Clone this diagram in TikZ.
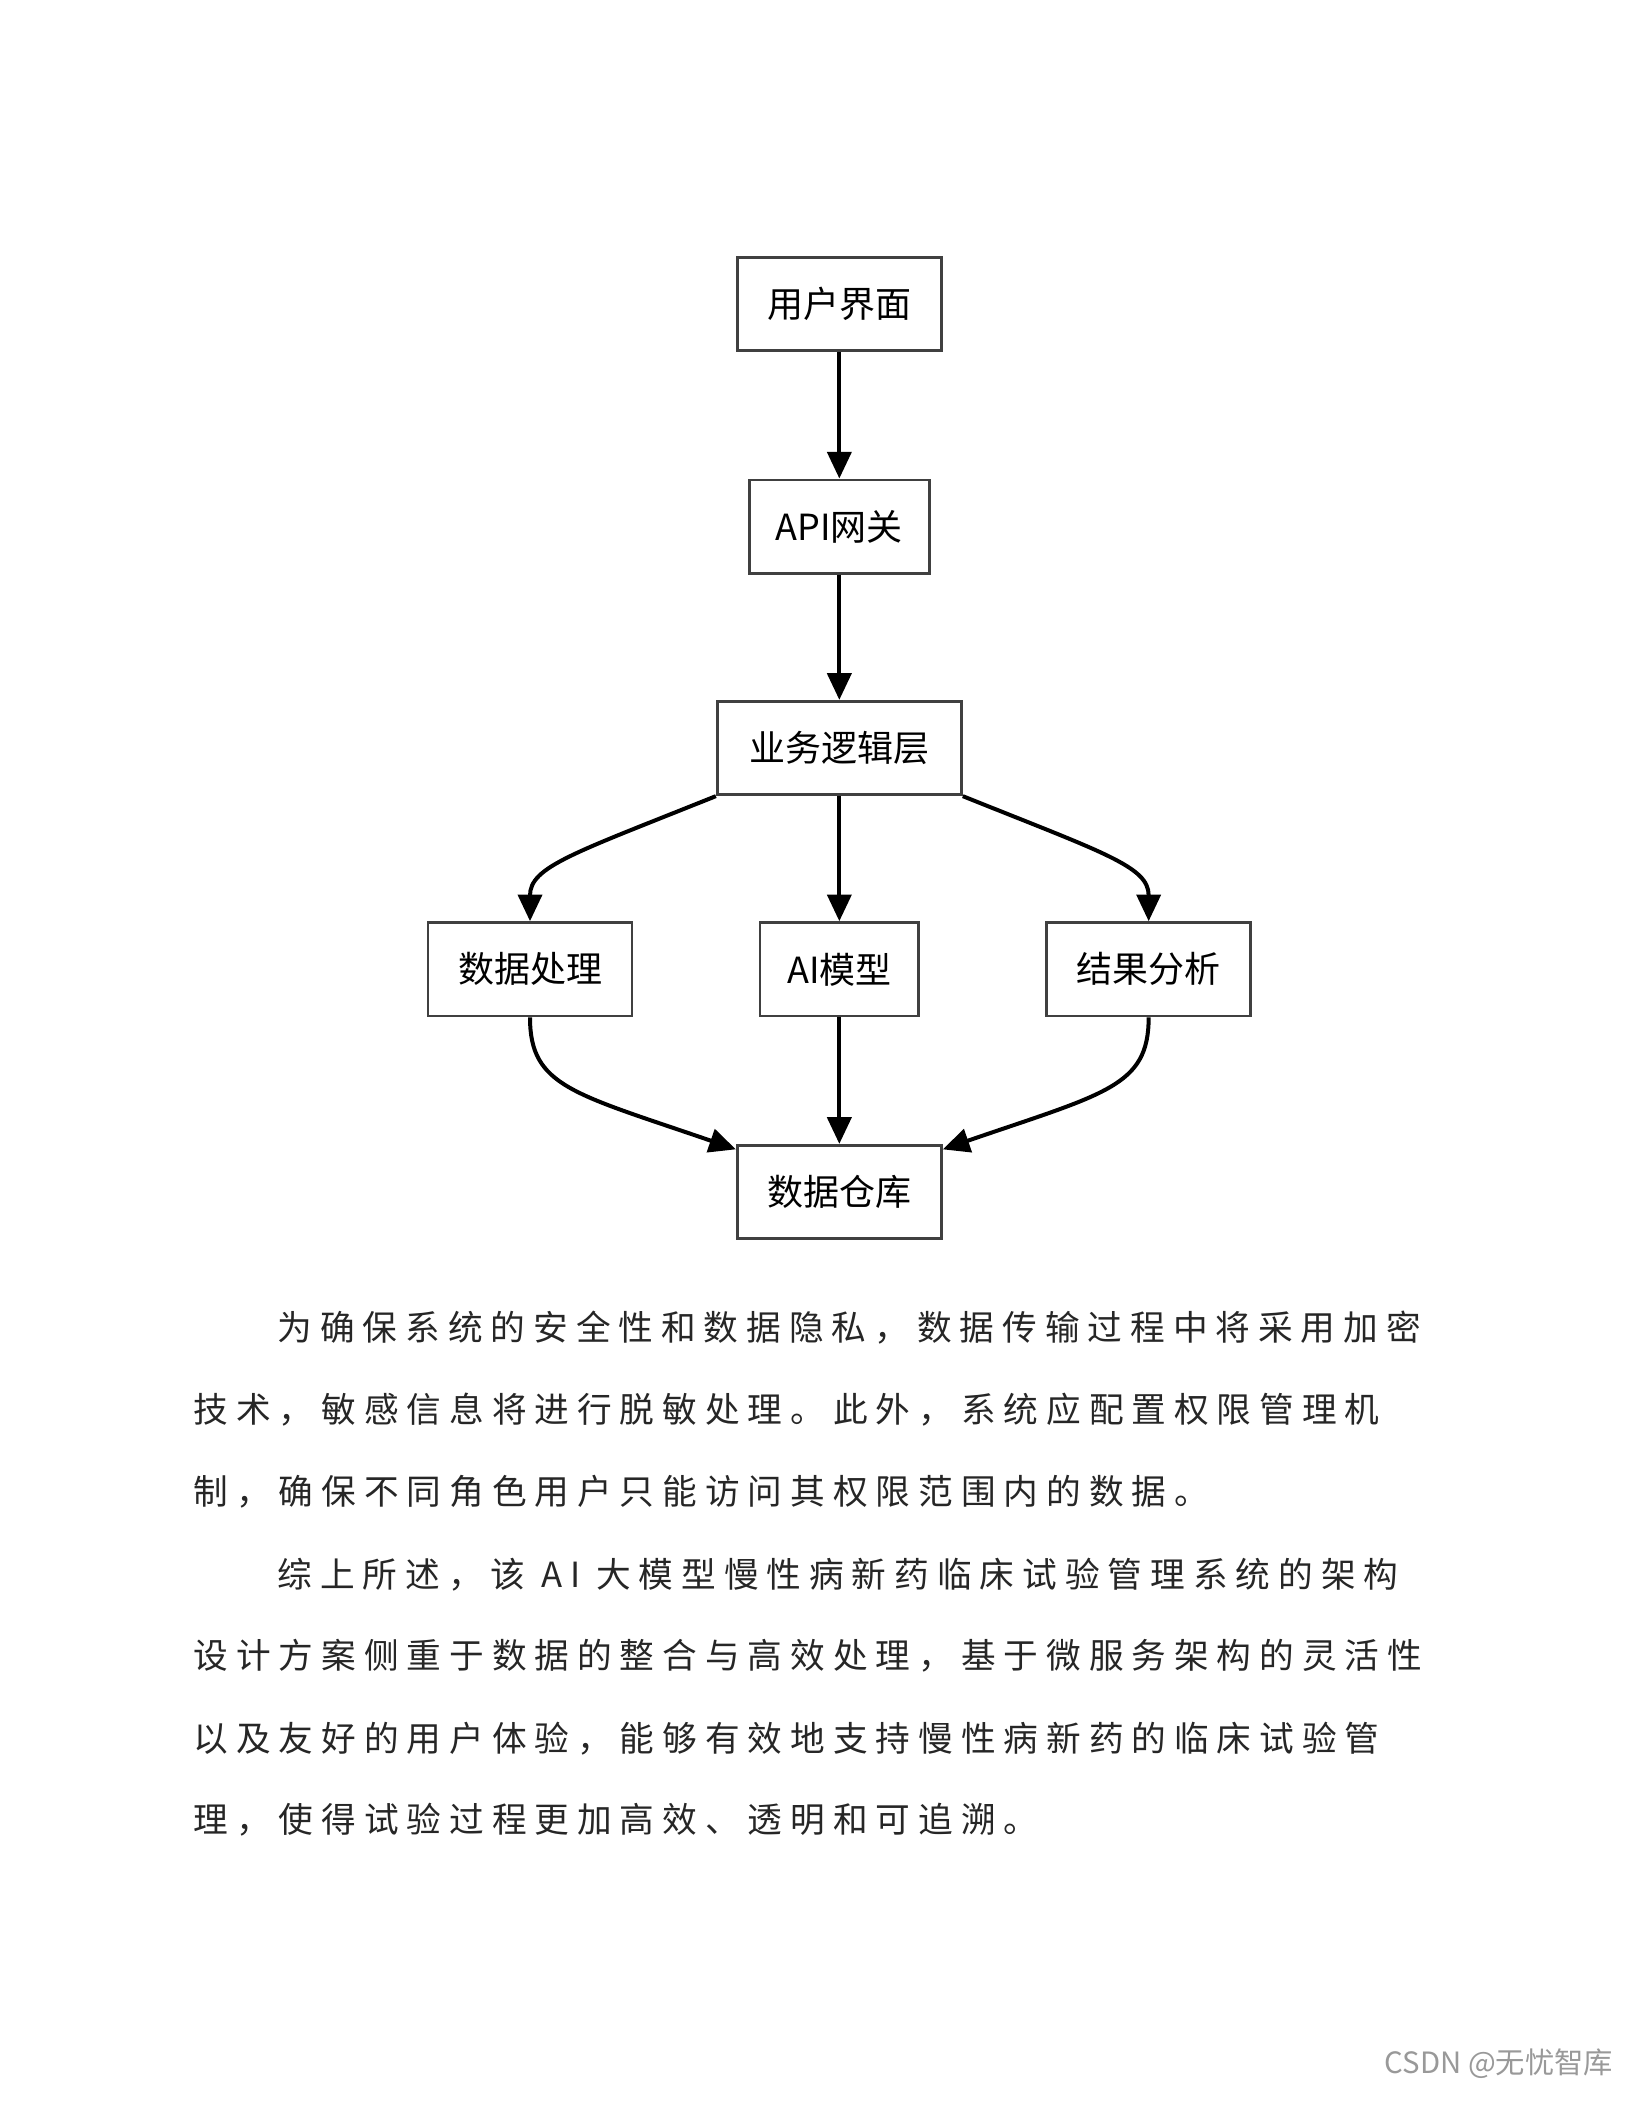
\documentclass[tikz,border=0pt]{standalone}
\usepackage{fontspec}
\setmainfont{Noto Sans CJK SC}
\newfontfamily\cjk{Noto Sans CJK SC}
\newfontfamily\cjksp[LetterSpace=23]{Noto Sans CJK SC}
\usetikzlibrary{arrows.meta}
\begin{document}
\begin{tikzpicture}[x=1pt,y=-1pt,
  box/.style={draw=black!75,line width=2.2pt,fill=white,minimum height=70pt,inner sep=0pt,font=\cjk\fontsize{27}{30}\selectfont},
  arr/.style={-{Triangle[length=20pt,width=18pt]},line width=3pt},
  para/.style={anchor=west,inner sep=0pt,font=\cjksp\fontsize{26}{30}\selectfont,text=black!85}]
\fill[white] (0,0) rectangle (1224,1584);
\node[box,minimum width=153pt] (ui) at (629.5,228) {用户界面};
\node[box,minimum width=135pt] (api) at (629.5,395) {API网关};
\node[box,minimum width=183pt] (biz) at (629.5,561) {业务逻辑层};
\node[box,minimum width=153pt] (dp) at (397.5,727) {数据处理};
\node[box,minimum width=119pt] (ai) at (629.5,727) {AI模型};
\node[box,minimum width=153pt] (ra) at (861.5,727) {结果分析};
\node[box,minimum width=153pt] (dw) at (629.5,894) {数据仓库};
\draw[arr] (ui) -- (api);
\draw[arr] (api) -- (biz);
\draw[arr] (biz) -- (ai);
\draw[arr] (ai) -- (dw);
\draw[arr] (biz.south west) .. controls (430,640) and (397.5,650) .. (dp.north);
\draw[arr] (biz.south east) .. controls (829,640) and (861.5,650) .. (ra.north);
\draw[arr] (dp.south) .. controls (397.5,815) and (430,820) .. (dw.west|-0,862);
\draw[arr] (ra.south) .. controls (861.5,815) and (829,820) .. (dw.east|-0,862);
\node[para] (l1) at (208,996) {为确保系统的安全性和数据隐私，数据传输过程中将采用加密};
\node[para] (l2) at (145,1057) {技术，敏感信息将进行脱敏处理。此外，系统应配置权限管理机};
\node[para] (l3) at (145,1119) {制，确保不同角色用户只能访问其权限范围内的数据。};
\node[para] (l4) at (208,1181) {综上所述，该 AI 大模型慢性病新药临床试验管理系统的架构};
\node[para] (l5) at (145,1242) {设计方案侧重于数据的整合与高效处理，基于微服务架构的灵活性};
\node[para] (l6) at (145,1304) {以及友好的用户体验，能够有效地支持慢性病新药的临床试验管};
\node[para] (l7) at (145,1365) {理，使得试验过程更加高效、透明和可追溯。};
\node[anchor=east,inner sep=0pt,text=black!40,font=\cjk\fontsize{22}{24}\selectfont] (wm) at (1210,1548) {CSDN @无忧智库};
\pgfresetboundingbox
\useasboundingbox (0,0) rectangle (1224,1584);
\end{tikzpicture}
\end{document}
